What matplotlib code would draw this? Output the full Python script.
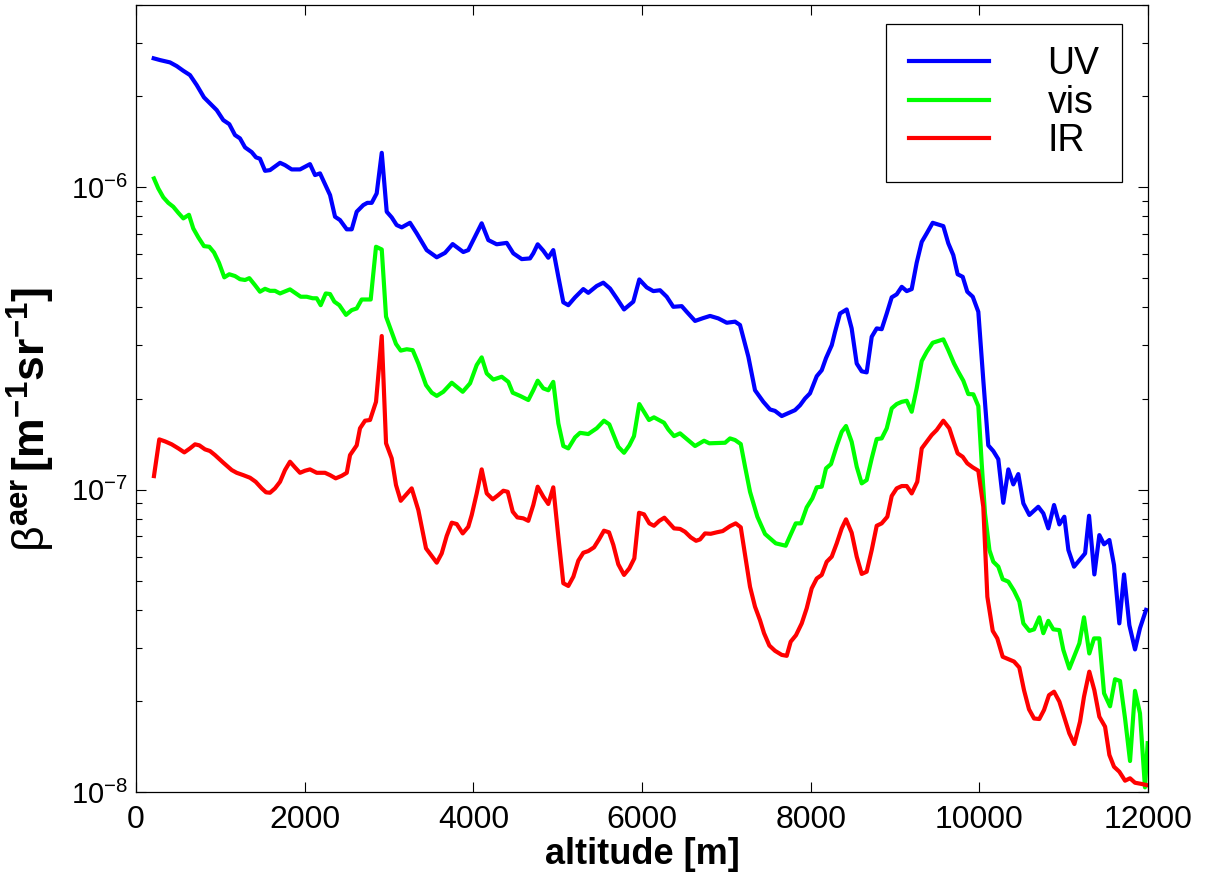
import numpy as np
import matplotlib
matplotlib.use('Agg')
import matplotlib.pyplot as plt
from matplotlib.ticker import NullFormatter

plt.rcParams['font.family'] = ['Liberation Sans', 'DejaVu Sans']
plt.rcParams['mathtext.fontset'] = 'custom'
plt.rcParams['mathtext.rm'] = 'Liberation Sans'
plt.rcParams['mathtext.it'] = 'Liberation Sans:italic'
plt.rcParams['mathtext.bf'] = 'Liberation Sans:bold'

# altitude [m] and backscatter [1e-6 m^-1 sr^-1]
uv_alt = [210, 285, 403, 483, 561, 640, 720, 806, 877, 957, 1035, 1106, 1174, 1233, 1293,
          1372, 1423, 1470, 1530, 1589, 1708, 1767, 1846, 1945, 2063, 2123, 2182, 2241, 2301,
          2360, 2419, 2499, 2558, 2617, 2695, 2743, 2795, 2854, 2914, 2973, 3032, 3091, 3151,
          3249, 3329, 3447, 3566, 3664, 3755, 3881, 3940, 4099, 4178, 4277, 4396, 4474, 4574,
          4672, 4711, 4763, 4830, 4889, 4948, 5008, 5067, 5126, 5206, 5304, 5363, 5463, 5541,
          5621, 5700, 5787, 5897, 5968, 6056, 6134, 6214, 6293, 6371, 6471, 6530, 6629, 6727,
          6807, 6905, 7005, 7103, 7162, 7261, 7340, 7439, 7518, 7577, 7657, 7735, 7814, 7874,
          7933, 7992, 8072, 8131, 8182, 8250, 8289, 8348, 8427, 8486, 8546, 8605, 8664, 8724,
          8783, 8842, 8902, 8961, 9020, 9080, 9139, 9198, 9257, 9317, 9376, 9447, 9573, 9632,
          9691, 9743, 9803, 9857, 9922, 9988, 10047, 10106, 10166, 10225, 10284, 10344, 10403,
          10462, 10522, 10593, 10699, 10759, 10818, 10886, 10949, 11008, 11056, 11123, 11254,
          11301, 11364, 11423, 11479, 11542, 11597, 11660, 11716, 11779, 11846, 11905, 11977]
uv = [2.665, 2.630, 2.584, 2.512, 2.424, 2.346, 2.174, 1.980, 1.891, 1.797, 1.665, 1.615,
      1.486, 1.449, 1.353, 1.305, 1.254, 1.241, 1.132, 1.138, 1.203, 1.182, 1.144, 1.144,
      1.191, 1.096, 1.110, 1.023, 0.941, 0.798, 0.778, 0.725, 0.725, 0.829, 0.872, 0.887,
      0.887, 0.953, 1.298, 0.829, 0.794, 0.749, 0.736, 0.762, 0.703, 0.619, 0.586, 0.606,
      0.648, 0.610, 0.619, 0.759, 0.668, 0.647, 0.654, 0.604, 0.578, 0.581, 0.604, 0.647,
      0.616, 0.584, 0.619, 0.505, 0.416, 0.407, 0.432, 0.460, 0.447, 0.471, 0.483, 0.462,
      0.429, 0.394, 0.418, 0.495, 0.466, 0.453, 0.456, 0.434, 0.402, 0.404, 0.387, 0.361,
      0.369, 0.375, 0.368, 0.356, 0.359, 0.350, 0.275, 0.213, 0.195, 0.184, 0.182, 0.175,
      0.179, 0.183, 0.190, 0.200, 0.208, 0.237, 0.248, 0.272, 0.300, 0.332, 0.382, 0.394,
      0.341, 0.261, 0.246, 0.244, 0.320, 0.341, 0.339, 0.382, 0.432, 0.442, 0.468, 0.453,
      0.460, 0.562, 0.659, 0.703, 0.762, 0.743, 0.652, 0.596, 0.515, 0.505, 0.451, 0.434,
      0.387, 0.230, 0.140, 0.134, 0.126, 0.0904, 0.1166, 0.104, 0.1125, 0.090, 0.0824,
      0.0877, 0.0834, 0.0744, 0.0889, 0.0767, 0.0813, 0.0631, 0.0556, 0.0615, 0.0819,
      0.0524, 0.0707, 0.0659, 0.0681, 0.0563, 0.0361, 0.0524, 0.0356, 0.0296, 0.0348, 0.040]

vis_alt = [213, 264, 324, 383, 442, 502, 561, 628, 679, 739, 806, 869, 925, 984, 1047, 1106,
           1174, 1233, 1293, 1344, 1411, 1470, 1530, 1589, 1648, 1708, 1826, 1885, 1953, 2024,
           2095, 2143, 2190, 2250, 2301, 2352, 2411, 2490, 2558, 2617, 2676, 2783, 2846, 2914,
           2965, 3083, 3139, 3210, 3281, 3348, 3439, 3507, 3566, 3644, 3744, 3874, 3961, 4040,
           4099, 4159, 4237, 4337, 4415, 4467, 4554, 4652, 4711, 4763, 4830, 4889, 4948, 5008,
           5067, 5126, 5206, 5265, 5363, 5463, 5549, 5612, 5719, 5787, 5850, 5905, 5968, 6024,
           6083, 6142, 6261, 6312, 6380, 6451, 6522, 6629, 6736, 6798, 6985, 7044, 7103, 7171,
           7222, 7281, 7368, 7459, 7586, 7704, 7755, 7823, 7886, 7953, 8020, 8072, 8131, 8182,
           8241, 8309, 8368, 8419, 8486, 8546, 8605, 8664, 8724, 8783, 8842, 8902, 8961, 9020,
           9080, 9139, 9198, 9257, 9317, 9376, 9447, 9573, 9632, 9700, 9751, 9810, 9869, 9929,
           9988, 10028, 10067, 10120, 10166, 10225, 10277, 10344, 10411, 10474, 10522, 10593,
           10649, 10711, 10759, 10818, 10877, 10949, 10996, 11067, 11186, 11241, 11304, 11360,
           11423, 11479, 11550, 11609, 11668, 11728, 11787, 11846, 11905, 11964, 11996]
vis = [1.068, 0.990, 0.925, 0.887, 0.861, 0.822, 0.788, 0.810, 0.730, 0.682, 0.638, 0.635,
       0.608, 0.562, 0.503, 0.515, 0.508, 0.496, 0.493, 0.500, 0.474, 0.451, 0.461, 0.454,
       0.454, 0.445, 0.459, 0.447, 0.434, 0.434, 0.429, 0.429, 0.407, 0.445, 0.443, 0.418,
       0.407, 0.378, 0.392, 0.397, 0.425, 0.425, 0.635, 0.622, 0.373, 0.303, 0.288, 0.291,
       0.289, 0.261, 0.2215, 0.209, 0.204, 0.2105, 0.2255, 0.2105, 0.2245, 0.258, 0.2735,
       0.242, 0.231, 0.236, 0.227, 0.209, 0.204, 0.1977, 0.213, 0.229, 0.216, 0.213, 0.227,
       0.1655, 0.1393, 0.1368, 0.1488, 0.154, 0.1526, 0.1594, 0.1689, 0.1643, 0.1385,
       0.1323, 0.140, 0.1502, 0.1917, 0.1808, 0.1698, 0.1733, 0.1663, 0.158, 0.1502, 0.1534,
       0.1476, 0.1393, 0.145, 0.1422, 0.1428, 0.1476, 0.1458, 0.1414, 0.119, 0.0983, 0.0813,
       0.0713, 0.0664, 0.0652, 0.0702, 0.0773, 0.0773, 0.0873, 0.0935, 0.1017, 0.1022,
       0.1175, 0.1214, 0.1393, 0.1552, 0.1622, 0.1439, 0.119, 0.1048, 0.1075, 0.1268,
       0.1469, 0.1476, 0.1594, 0.1855, 0.1917, 0.195, 0.1966, 0.1808, 0.216, 0.266, 0.2854,
       0.3057, 0.3137, 0.289, 0.261, 0.245, 0.229, 0.2069, 0.2065, 0.1888, 0.1221, 0.0834,
       0.063, 0.0577, 0.0556, 0.0505, 0.0496, 0.0463, 0.0426, 0.0361, 0.0341, 0.0345,
       0.0378, 0.0335, 0.0368, 0.0345, 0.0343, 0.0295, 0.0256, 0.0310, 0.0378, 0.0287,
       0.0322, 0.0322, 0.0212, 0.0192, 0.0236, 0.0233, 0.0175, 0.01266, 0.0216, 0.0182,
       0.01036, 0.0145]

ir_alt = [213, 276, 344, 423, 502, 573, 640, 700, 751, 818, 877, 937, 1035, 1135, 1194, 1272,
          1352, 1419, 1491, 1542, 1589, 1648, 1708, 1767, 1826, 1885, 1945, 2004, 2063, 2143,
          2241, 2301, 2368, 2439, 2499, 2538, 2617, 2656, 2716, 2775, 2846, 2914, 2965, 3032,
          3083, 3139, 3210, 3269, 3348, 3439, 3566, 3625, 3684, 3744, 3803, 3874, 3940, 3981,
          4040, 4099, 4159, 4230, 4296, 4356, 4408, 4467, 4522, 4593, 4652, 4711, 4763, 4830,
          4889, 4948, 5008, 5067, 5126, 5186, 5245, 5304, 5363, 5431, 5490, 5549, 5609, 5660,
          5719, 5787, 5850, 5909, 5965, 6024, 6087, 6142, 6205, 6265, 6380, 6451, 6510, 6578,
          6641, 6688, 6747, 6815, 6886, 6957, 7044, 7111, 7171, 7222, 7281, 7340, 7399, 7447,
          7510, 7577, 7657, 7716, 7763, 7826, 7894, 7953, 8012, 8072, 8131, 8190, 8250, 8309,
          8368, 8419, 8486, 8546, 8605, 8664, 8724, 8783, 8842, 8909, 8961, 9020, 9080, 9139,
          9198, 9264, 9317, 9376, 9435, 9494, 9573, 9644, 9700, 9743, 9803, 9857, 9922, 9988,
          10047, 10095, 10159, 10213, 10277, 10344, 10411, 10474, 10530, 10589, 10649, 10711,
          10767, 10826, 10886, 10949, 11008, 11067, 11127, 11194, 11241, 11304, 11364, 11423,
          11491, 11542, 11597, 11660, 11728, 11787, 11846, 11925, 11985]
ir = [0.1108, 0.1465, 0.1443, 0.1411, 0.1368, 0.1327, 0.1368, 0.1411, 0.140, 0.1358, 0.1341,
      0.130, 0.1227, 0.116, 0.1136, 0.1116, 0.1094, 0.1061, 0.1009, 0.0979, 0.0976, 0.1009,
      0.1061, 0.116, 0.1236, 0.1184, 0.1136, 0.1154, 0.1166, 0.1136, 0.1136, 0.1116, 0.1089,
      0.111, 0.1136, 0.130, 0.140, 0.1594, 0.1689, 0.1698, 0.195, 0.3218, 0.1422, 0.1268,
      0.1035, 0.0918, 0.0966, 0.1009, 0.0855, 0.0639, 0.0573, 0.0615, 0.0702, 0.0777,
      0.0769, 0.0716, 0.0753, 0.0824, 0.0971, 0.1166, 0.0971, 0.0928, 0.0959, 0.0991,
      0.0983, 0.0845, 0.0809, 0.0803, 0.0788, 0.0889, 0.1022, 0.0947, 0.0896, 0.1017,
      0.0698, 0.049, 0.048, 0.0515, 0.0582, 0.0618, 0.0626, 0.0644, 0.0684, 0.0731, 0.0722,
      0.0656, 0.0566, 0.0522, 0.0549, 0.0592, 0.0838, 0.0828, 0.0773, 0.0759, 0.0788,
      0.0807, 0.0744, 0.0741, 0.0725, 0.0695, 0.0677, 0.0684, 0.0716, 0.0714, 0.0722,
      0.0729, 0.0757, 0.0773, 0.075, 0.0607, 0.0477, 0.041, 0.037, 0.0335, 0.0305, 0.0293,
      0.0284, 0.0282, 0.0314, 0.033, 0.0361, 0.0405, 0.0471, 0.0508, 0.0522, 0.0577, 0.060,
      0.0664, 0.0744, 0.0797, 0.072, 0.060, 0.0526, 0.0535, 0.0631, 0.0759, 0.0773, 0.0813,
      0.0952, 0.1009, 0.1027, 0.1027, 0.0971, 0.1061, 0.1368, 0.1439, 0.1514, 0.1573,
      0.1689, 0.1594, 0.1428, 0.1317, 0.1283, 0.1221, 0.1184, 0.1154, 0.0877, 0.0442,
      0.0341, 0.0322, 0.028, 0.0275, 0.027, 0.0258, 0.0217, 0.01877, 0.0175, 0.01743,
      0.01867, 0.0209, 0.02146, 0.0199, 0.01766, 0.01563, 0.01441, 0.01708, 0.02065, 0.025,
      0.0217, 0.01774, 0.01644, 0.01326, 0.01212, 0.01167, 0.0109, 0.0111, 0.01073,
      0.01063, 0.01054]

fig = plt.figure(figsize=(12.06, 8.73), dpi=100)
ax = fig.add_axes([136 / 1206, 1 - 792 / 873, 1012 / 1206, 787 / 873])

ax.plot(uv_alt, np.array(uv) * 1e-6, color='#0000ff', lw=3, label='UV')
ax.plot(vis_alt, np.array(vis) * 1e-6, color='#00ff00', lw=3, label='vis')
ax.plot(ir_alt, np.array(ir) * 1e-6, color='#ff0000', lw=3, label='IR')

ax.set_yscale('log')
ax.set_xlim(0, 12000)
ax.set_ylim(1e-8, 4e-6)
ax.set_xticks([0, 2000, 4000, 6000, 8000, 10000, 12000])
ax.yaxis.set_minor_formatter(NullFormatter())

for s in ax.spines.values():
    s.set_linewidth(0.9)
ax.tick_params(which='both', direction='in', top=True, right=True, width=0.8)
ax.tick_params(which='major', length=7)
ax.tick_params(which='minor', length=4)
ax.tick_params(axis='x', labelsize=23, pad=9)
ax.tick_params(axis='y', labelsize=21, pad=6)

ax.set_xlabel('altitude [m]', fontsize=26, fontweight='bold', labelpad=2)
ax.set_ylabel(r'$\mathrm{\beta}^{\mathbf{aer}}\,\mathbf{[m^{-1}sr^{-1}]}$', fontsize=32)
ax.yaxis.set_label_coords(-0.078, 0.473)

leg = ax.legend(loc='upper right', bbox_to_anchor=(1122 / 1206, 1 - 24 / 873),
                bbox_transform=fig.transFigure, borderaxespad=0, fontsize=27,
                fancybox=False, framealpha=1, edgecolor='black', handlelength=2.15,
                handletextpad=1.55, labelspacing=0.06, borderpad=0.6)
leg.get_frame().set_linewidth(0.9)

fig.savefig('out.png', dpi=100)
